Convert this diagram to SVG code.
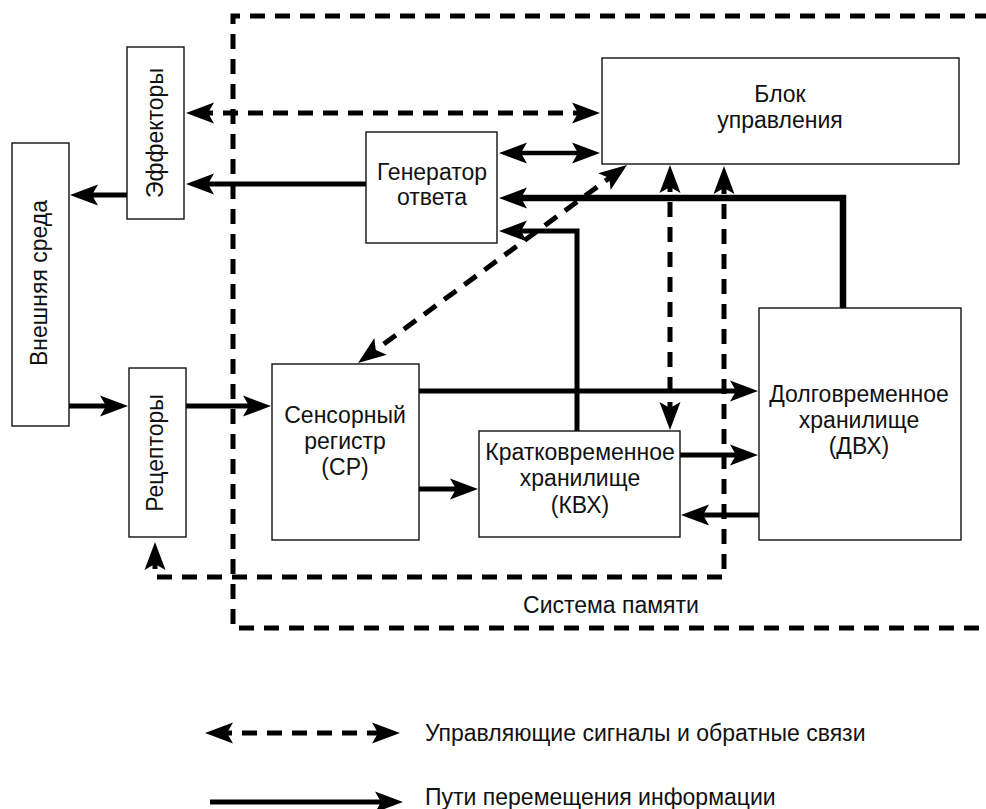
<svg xmlns="http://www.w3.org/2000/svg" width="986" height="809" viewBox="0 0 986 809">
<style>
.node{fill:#fff;stroke:#111;stroke-width:1.4}
.t{font-family:"Liberation Sans",Arial,Helvetica,sans-serif;font-size:23px;fill:#111;text-anchor:middle}
.tl{font-family:"Liberation Sans",Arial,Helvetica,sans-serif;font-size:23px;fill:#111;text-anchor:start}
.s{fill:none;stroke:#000;stroke-width:5;stroke-linejoin:miter}
.d{fill:none;stroke:#000;stroke-width:5;stroke-dasharray:15 10}
.a{marker-end:url(#ah)}
.aa{marker-start:url(#ah);marker-end:url(#ah)}
</style>
<defs>
<marker id="ah" markerUnits="userSpaceOnUse" viewBox="-17 -11 30 22" refX="0" refY="0" markerWidth="30" markerHeight="22" orient="auto-start-reverse">
<path d="M12,0 L-16,-10.5 L-10,0 L-16,10.5 Z" fill="#000"/>
</marker>
</defs>
<rect width="986" height="809" fill="#fff"/>

<g id="memory-system">
<path class="d" d="M990,16 L233,16 L233,628 L990,628"/>
<text class="t" x="611" y="613">Система памяти</text>
</g>

<g id="connectors">
<path class="s a" d="M127,195 L82,195"/>
<path class="s a" d="M366,184 L198,184"/>
<path class="s aa" style="stroke-width:4.5" d="M511,153 L588,153"/>
<path class="s a" style="stroke-width:6.5" d="M843,308 L843,198 L511,198"/>
<path class="s a" d="M577,431 L577,231 L511,231"/>
<path class="s a" d="M69,406 L116,406"/>
<path class="s a" d="M186,406 L259,406"/>
<path class="s a" d="M419,391 L746,391"/>
<path class="s a" d="M419,489 L466,489"/>
<path class="s a" d="M680,455 L746,455"/>
<path class="s a" d="M759,515 L693,515"/>
<path class="d aa" d="M198,113 L588,113"/>
<path class="d aa" d="M617.3,172.1 L367.7,355.9"/>
<path class="d aa" d="M670,177 L670,418"/>
<path class="d aa" d="M155,554 L155,577 L724,577 L724,178"/>
</g>

<g id="env">
<rect class="node" x="12" y="143" width="57" height="283"/>
<text class="t" transform="translate(47,283) rotate(-90)">Внешняя среда</text>
</g>
<g id="effectors">
<rect class="node" x="127" y="47" width="57" height="172"/>
<text class="t" transform="translate(163,133) rotate(-90)">Эффекторы</text>
</g>
<g id="receptors">
<rect class="node" x="129" y="368" width="57" height="169"/>
<text class="t" transform="translate(163,453) rotate(-90)">Рецепторы</text>
</g>
<g id="generator">
<rect class="node" x="366" y="132" width="131" height="111"/>
<text class="t" x="432" y="180">Генератор</text>
<text class="t" x="432" y="205">ответа</text>
</g>
<g id="control">
<rect class="node" x="602" y="58" width="357" height="106"/>
<text class="t" x="780" y="102">Блок</text>
<text class="t" x="780" y="128">управления</text>
</g>
<g id="sensory">
<rect class="node" x="272" y="364" width="147" height="176"/>
<text class="t" x="345" y="423">Сенсорный</text>
<text class="t" x="345" y="449">регистр</text>
<text class="t" x="345" y="475">(СР)</text>
</g>
<g id="stm">
<rect class="node" x="479" y="431" width="201" height="106"/>
<text class="t" x="580" y="460">Кратковременное</text>
<text class="t" x="580" y="486">хранилище</text>
<text class="t" x="580" y="513">(КВХ)</text>
</g>
<g id="ltm">
<rect class="node" x="759" y="308" width="202" height="232"/>
<text class="t" x="859" y="402">Долговременное</text>
<text class="t" x="859" y="428">хранилище</text>
<text class="t" x="859" y="454">(ДВХ)</text>
</g>

<g id="legend">
<path class="d aa" d="M217,733 L388,733"/>
<text class="tl" x="425" y="741">Управляющие сигналы и обратные связи</text>
<path class="s a" d="M210,802 L391,802"/>
<text class="tl" x="425" y="805">Пути перемещения информации</text>
</g>
</svg>
